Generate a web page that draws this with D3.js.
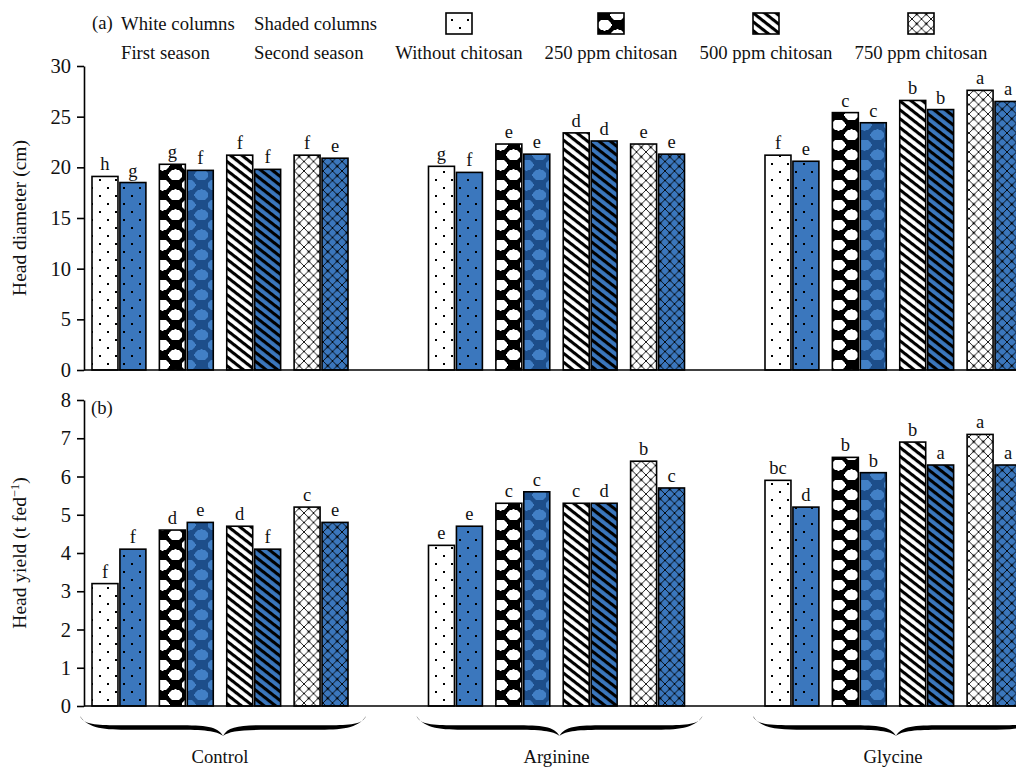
<!DOCTYPE html>
<html>
<head>
<meta charset="utf-8">
<script src="https://cdn.jsdelivr.net/npm/d3@7"></script>
<style>
  html, body { margin: 0; padding: 0; background: #fff; }
  svg { display: block; }
  text { font-family: "Liberation Serif", "Times New Roman", serif; fill: #111; }
</style>
</head>
<body>
<svg id="chart" width="1016" height="768"></svg>
<script>
// Amino acid foliar treatments (groups) and chitosan levels (bar pairs)
const groups = ["Control", "Arginine", "Glycine"];
const treatments = ["Without chitosan", "250 ppm chitosan", "500 ppm chitosan", "750 ppm chitosan"];
const seasons = ["First season", "Second season"];

// Head diameter (cm), group-major order: Control x4, Arginine x4, Glycine x4
const diameterFirst  = [19.1, 20.3, 21.2, 21.2, 20.1, 22.3, 23.4, 22.3, 21.2, 25.4, 26.6, 27.6];
const diameterSecond = [18.5, 19.7, 19.8, 20.9, 19.5, 21.3, 22.6, 21.3, 20.6, 24.4, 25.7, 26.5];
const diameterFirstLetters  = ["h", "g", "f", "f", "g", "e", "d", "e", "f", "c", "b", "a"];
const diameterSecondLetters = ["g", "f", "f", "e", "f", "e", "d", "e", "e", "c", "b", "a"];

// Head yield (t fed-1)
const yieldFirst  = [3.2, 4.6, 4.7, 5.2, 4.2, 5.3, 5.3, 6.4, 5.9, 6.5, 6.9, 7.1];
const yieldSecond = [4.1, 4.8, 4.1, 4.8, 4.7, 5.6, 5.3, 5.7, 5.2, 6.1, 6.3, 6.3];
const yieldFirstLetters  = ["f", "d", "d", "c", "e", "c", "c", "b", "bc", "b", "b", "a"];
const yieldSecondLetters = ["f", "e", "f", "e", "e", "c", "d", "c", "d", "b", "a", "a"];

const diameterTicks = [0, 5, 10, 15, 20, 25, 30];
const yieldTicks = [0, 1, 2, 3, 4, 5, 6, 7, 8];

const BLUE = "#3b77bd";
const DARK_BLUE = "#1d4e8a";
const LIGHT_BLUE = "#4280c6";

const svg = d3.select("#chart");
const defs = svg.append("defs");

// ---- fill patterns: one per chitosan level, white and blue variants ----
function dotsPattern(id, bg) {
  const p = defs.append("pattern").attr("id", id).attr("patternUnits", "userSpaceOnUse")
    .attr("width", 16).attr("height", 16);
  p.append("rect").attr("width", 16).attr("height", 16).attr("fill", bg);
  p.append("rect").attr("x", 3).attr("y", 3).attr("width", 2).attr("height", 2).attr("fill", "#000");
  p.append("rect").attr("x", 11).attr("y", 11).attr("width", 2).attr("height", 2).attr("fill", "#000");
}
// checkerboard of chamfered cells
function blobPattern(id, bg, fg) {
  const cw = 13, ch = 10, c = 3;
  const p = defs.append("pattern").attr("id", id).attr("patternUnits", "userSpaceOnUse")
    .attr("width", cw * 2).attr("height", ch * 2);
  p.append("rect").attr("width", cw * 2).attr("height", ch * 2).attr("fill", bg);
  const cell = (x0, y0) => {
    const x1 = x0 + cw, y1 = y0 + ch;
    p.append("path")
      .attr("d", `M${x0 + c},${y0}L${x1 - c},${y0}L${x1},${y0 + c}L${x1},${y1 - c}L${x1 - c},${y1}` +
                 `L${x0 + c},${y1}L${x0},${y1 - c}L${x0},${y0 + c}Z`)
      .attr("fill", fg);
    // small nubs at the middle of each side
    p.append("rect").attr("x", x0 + cw / 2 - 1).attr("y", y0 - 1).attr("width", 2).attr("height", ch + 2).attr("fill", fg);
    p.append("rect").attr("x", x0 - 1).attr("y", y0 + ch / 2 - 1).attr("width", cw + 2).attr("height", 2).attr("fill", fg);
  };
  cell(0, 0);
  cell(cw, ch);
}
function stripePattern(id, bg) {
  const p = defs.append("pattern").attr("id", id).attr("patternUnits", "userSpaceOnUse")
    .attr("width", 7).attr("height", 7).attr("patternTransform", "rotate(38)");
  p.append("rect").attr("width", 7).attr("height", 7).attr("fill", bg);
  p.append("rect").attr("width", 7).attr("height", 3.1).attr("fill", "#000");
}
function latticePattern(id, bg) {
  const s = 9.5;
  const p = defs.append("pattern").attr("id", id).attr("patternUnits", "userSpaceOnUse")
    .attr("width", s).attr("height", s);
  p.append("rect").attr("width", s).attr("height", s).attr("fill", bg);
  p.append("path").attr("d", `M0,0L${s},${s}M${s},0L0,${s}`)
    .attr("stroke", "#000").attr("stroke-width", 0.9).attr("fill", "none");
  p.append("rect").attr("x", s / 2 - 1.2).attr("y", s / 2 - 1.2).attr("width", 2.4).attr("height", 2.4).attr("fill", "#000");
}
dotsPattern("p0-w", "#fff");
dotsPattern("p0-b", BLUE);
blobPattern("p1-w", "#000", "#fff");
blobPattern("p1-b", DARK_BLUE, LIGHT_BLUE);
stripePattern("p2-w", "#fff");
stripePattern("p2-b", BLUE);
latticePattern("p3-w", "#fff");
latticePattern("p3-b", BLUE);

const fillFor = (ti, si) => `url(#p${ti}-${si === 0 ? "w" : "b"})`;

// ---- shared horizontal scales ----
const axisX = 84;
const rightX = 1016;
const groupX = d3.scaleBand().domain(groups).range([92, 1021]).paddingInner(0.2392).paddingOuter(0);
const treatX = d3.scaleBand().domain(treatments).range([0, groupX.bandwidth()]).paddingInner(0.2);
const seasonX = d3.scaleBand().domain(seasons).range([0, treatX.bandwidth()]).paddingInner(0.07);

function buildRows(first, second, firstLetters, secondLetters) {
  const rows = [];
  groups.forEach((g, gi) => {
    treatments.forEach((t, ti) => {
      const i = gi * treatments.length + ti;
      rows.push({ group: g, treat: t, ti, season: seasons[0], si: 0, value: first[i], letter: firstLetters[i] });
      rows.push({ group: g, treat: t, ti, season: seasons[1], si: 1, value: second[i], letter: secondLetters[i] });
    });
  });
  return rows;
}

function drawPanel(opts) {
  const y = d3.scaleLinear().domain(opts.domain).range([opts.bottom, opts.top]);
  const g = svg.append("g");

  const rows = buildRows(opts.first, opts.second, opts.firstLetters, opts.secondLetters);
  const barX = d => groupX(d.group) + treatX(d.treat) + seasonX(d.season);

  g.selectAll("rect.bar").data(rows).join("rect")
    .attr("class", "bar")
    .attr("x", barX)
    .attr("y", d => y(d.value))
    .attr("width", seasonX.bandwidth())
    .attr("height", d => y(0) - y(d.value))
    .attr("fill", d => fillFor(d.ti, d.si))
    .attr("stroke", "#000")
    .attr("stroke-width", 1.6);

  g.selectAll("text.sig").data(rows).join("text")
    .attr("class", "sig")
    .attr("x", d => barX(d) + seasonX.bandwidth() / 2)
    .attr("y", d => y(d.value) - 6)
    .attr("text-anchor", "middle")
    .attr("font-size", 18.5)
    .text(d => d.letter);

  // baseline across the whole panel
  g.append("line")
    .attr("x1", axisX).attr("x2", rightX)
    .attr("y1", y(0)).attr("y2", y(0))
    .attr("stroke", "#000").attr("stroke-width", 1.6);

  const axis = d3.axisLeft(y).tickValues(opts.ticks).tickSize(7).tickSizeOuter(0).tickPadding(6)
    .tickFormat(d3.format("d"));
  const ag = g.append("g").attr("transform", `translate(${axisX},0)`).call(axis);
  ag.select(".domain").attr("stroke", "#000").attr("stroke-width", 1.6);
  ag.selectAll(".tick line").attr("stroke", "#000").attr("stroke-width", 1.6);
  ag.selectAll(".tick text").attr("font-size", 20.5).attr("font-family", "Liberation Serif, serif").attr("fill", "#111");

  g.append("text")
    .attr("x", 91).attr("y", opts.top + 14)
    .attr("font-size", 18.7)
    .text(opts.tag);

  const title = g.append("text")
    .attr("transform", `translate(26,${opts.titleY}) rotate(-90)`)
    .attr("text-anchor", "middle")
    .attr("font-size", 19.5);
  opts.title(title);
  return y;
}

drawPanel({
  domain: [0, 30], top: 66, bottom: 370, ticks: diameterTicks,
  first: diameterFirst, second: diameterSecond,
  firstLetters: diameterFirstLetters, secondLetters: diameterSecondLetters,
  tag: "", titleY: 218,
  title: t => t.text("Head diameter (cm)")
});

drawPanel({
  domain: [0, 8], top: 400, bottom: 706, ticks: yieldTicks,
  first: yieldFirst, second: yieldSecond,
  firstLetters: yieldFirstLetters, secondLetters: yieldSecondLetters,
  tag: "(b)", titleY: 553,
  title: t => {
    t.append("tspan").text("Head yield (t fed");
    t.append("tspan").attr("font-size", 12.5).attr("dy", -7).text("\u22121");
    t.append("tspan").attr("dy", 7).text(")");
  }
});

// ---- legend ----
const legend = svg.append("g").attr("font-size", 18.7);
legend.append("text").attr("x", 92).attr("y", 29).text("(a)");
legend.append("text").attr("x", 121).attr("y", 30).text("White columns");
legend.append("text").attr("x", 254).attr("y", 30).text("Shaded columns");
legend.append("text").attr("x", 121).attr("y", 59).text("First season");
legend.append("text").attr("x", 254).attr("y", 59).text("Second season");

const legendCenters = [459, 611, 766, 921];
treatments.forEach((t, ti) => {
  const cx = legendCenters[ti];
  legend.append("rect")
    .attr("x", cx - 13).attr("y", 13).attr("width", 26).attr("height", 21)
    .attr("fill", fillFor(ti, 0)).attr("stroke", "#000").attr("stroke-width", 1.6);
  legend.append("text").attr("x", cx).attr("y", 59).attr("text-anchor", "middle").text(t);
});

// ---- curly braces under each amino acid group ----
function bracePath(x1, x2, yTop, yMid, yTip, th) {
  const xc = (x1 + x2) / 2;
  const a = yMid - th / 2, b = yMid + th / 2;
  return [
    `M${x1},${yTop}`,
    `C${x1 + 4},${a + 1} ${x1 + 22},${a} ${x1 + 50},${a}`,
    `L${xc - 45},${a}`,
    `C${xc - 18},${a} ${xc - 5},${a + 1} ${xc},${yTip}`,
    `C${xc + 5},${a + 1} ${xc + 18},${a} ${xc + 45},${a}`,
    `L${x2 - 50},${a}`,
    `C${x2 - 22},${a} ${x2 - 4},${a + 1} ${x2},${yTop}`,
    `C${x2 - 8},${b - 1} ${x2 - 25},${b} ${x2 - 50},${b}`,
    `L${xc + 45},${b}`,
    `C${xc + 20},${b} ${xc + 6},${b + 1} ${xc},${yTip}`,
    `C${xc - 6},${b + 1} ${xc - 20},${b} ${xc - 45},${b}`,
    `L${x1 + 50},${b}`,
    `C${x1 + 25},${b} ${x1 + 8},${b - 1} ${x1},${yTop}`,
    "Z"
  ].join("");
}

const braces = svg.append("g");
groups.forEach(g => {
  const x1 = groupX(g) - 12, x2 = groupX(g) + groupX.bandwidth() + 18;
  braces.append("path")
    .attr("d", bracePath(x1, x2, 716, 727.5, 736, 4.6))
    .attr("fill", "#000");
  braces.append("text")
    .attr("x", groupX(g) + groupX.bandwidth() / 2)
    .attr("y", 763)
    .attr("text-anchor", "middle")
    .attr("font-size", 18.7)
    .text(g);
});
</script>
</body>
</html>
